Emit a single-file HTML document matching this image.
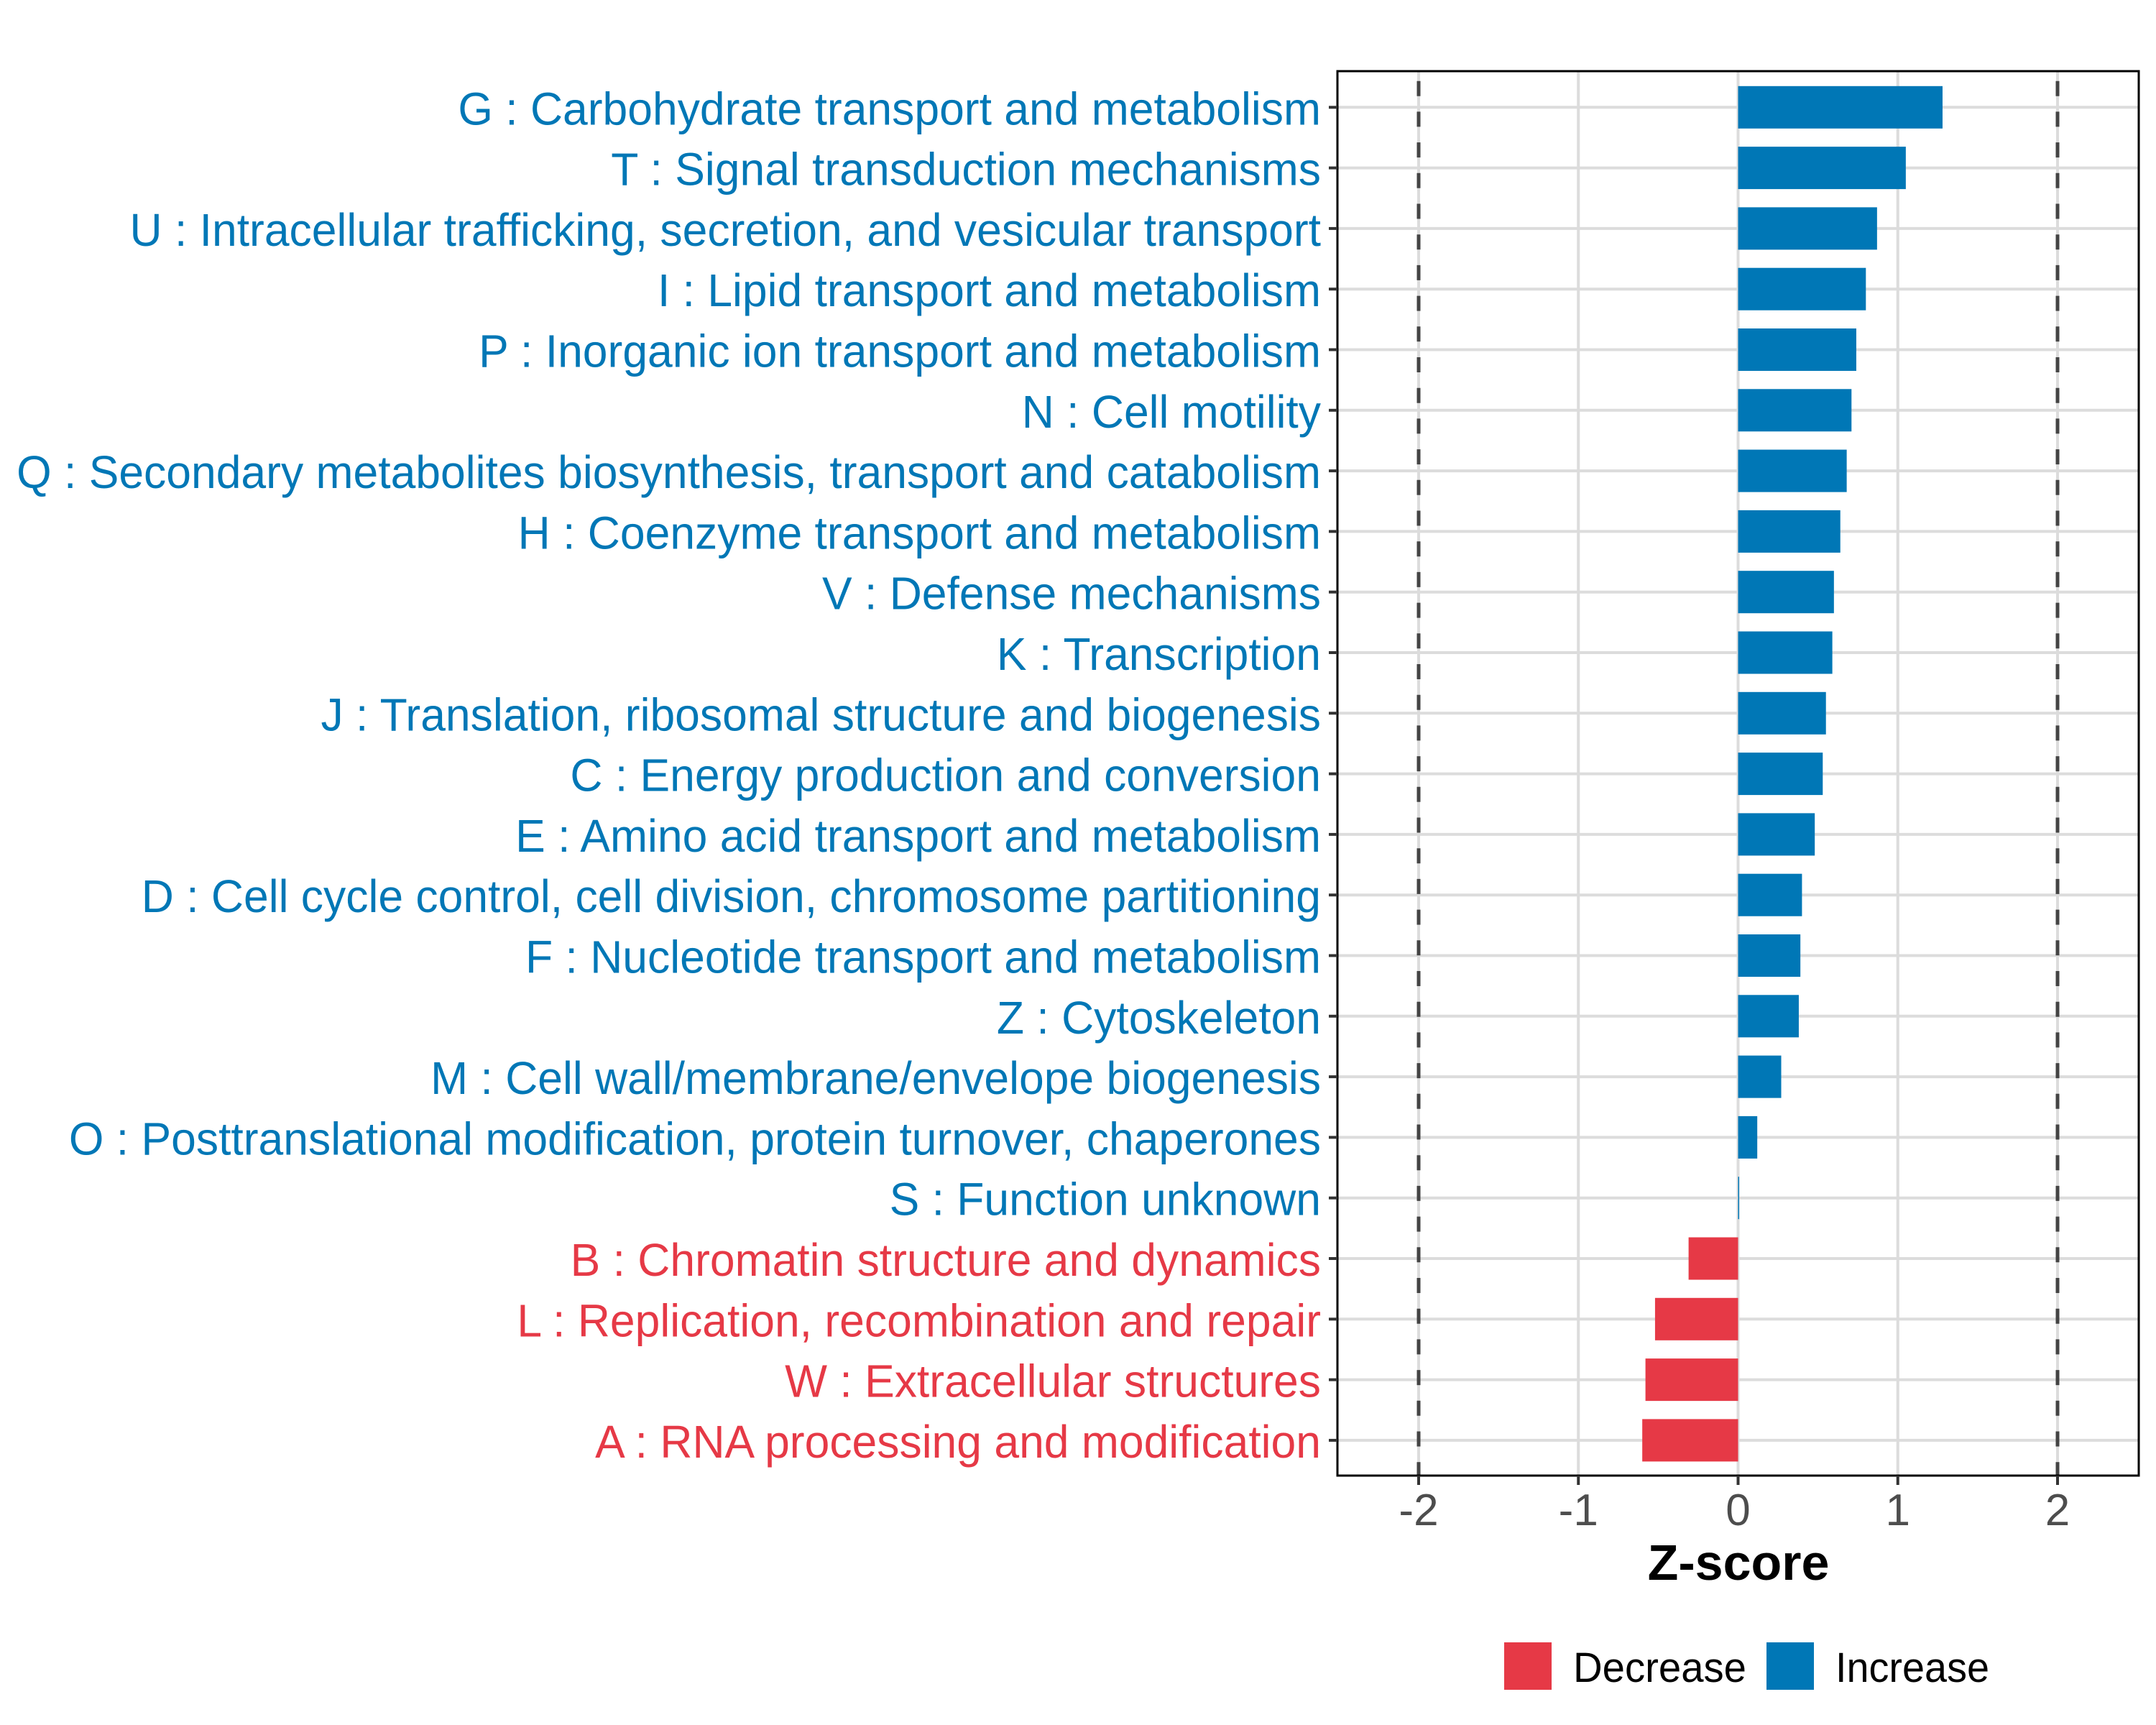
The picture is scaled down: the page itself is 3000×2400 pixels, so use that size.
<!DOCTYPE html>
<html><head><meta charset="utf-8"><style>
html,body{margin:0;padding:0;background:#fff}
svg{display:block;font-family:"Liberation Sans",Arial,sans-serif}
</style></head><body>
<svg id="chart" width="3000" height="2400" viewBox="0 0 3000 2400" xmlns="http://www.w3.org/2000/svg">
<rect x="0" y="0" width="3000" height="2400" fill="#fff"/>
<g id="grid"></g><g id="bars"></g><g id="refs"></g><g id="frame"></g><g id="labels"></g><g id="xaxis"></g>
<text x="2419" y="2198" text-anchor="middle" font-weight="bold" font-size="70" fill="#000">Z-score</text>
<g>
<rect x="2093" y="2285" width="66" height="66" fill="#E63946"/>
<text x="2189" y="2340" font-size="58" textLength="241" lengthAdjust="spacingAndGlyphs" fill="#000">Decrease</text>
<rect x="2458" y="2285" width="66" height="66" fill="#0077B6"/>
<text x="2554" y="2340" font-size="58" textLength="214" lengthAdjust="spacingAndGlyphs" fill="#000">Increase</text>
</g>
</svg>
<script>
const categories = [
"G : Carbohydrate transport and metabolism",
"T : Signal transduction mechanisms",
"U : Intracellular trafficking, secretion, and vesicular transport",
"I : Lipid transport and metabolism",
"P : Inorganic ion transport and metabolism",
"N : Cell motility",
"Q : Secondary metabolites biosynthesis, transport and catabolism",
"H : Coenzyme transport and metabolism",
"V : Defense mechanisms",
"K : Transcription",
"J : Translation, ribosomal structure and biogenesis",
"C : Energy production and conversion",
"E : Amino acid transport and metabolism",
"D : Cell cycle control, cell division, chromosome partitioning",
"F : Nucleotide transport and metabolism",
"Z : Cytoskeleton",
"M : Cell wall/membrane/envelope biogenesis",
"O : Posttranslational modification, protein turnover, chaperones",
"S : Function unknown",
"B : Chromatin structure and dynamics",
"L : Replication, recombination and repair",
"W : Extracellular structures",
"A : RNA processing and modification"];
const zscores = [1.28,1.05,0.87,0.80,0.74,0.71,0.68,0.64,0.60,0.59,0.55,0.53,0.48,0.40,0.39,0.38,0.27,0.12,0.005,-0.31,-0.52,-0.58,-0.60];
const xTicks = [-2,-1,0,1,2];
const xTickLabels = ["-2","-1","0","1","2"];
const refLines = [-2,2];

const NS="http://www.w3.org/2000/svg";
const L=1861,R=2976,T=99,B=2053;
const x=v=>2418.5+v*222.25;
const y=i=>149.3+i*84.3;
const BLUE="#0077B6",RED="#E63946";
function mk(parent,tag,attrs){const e=document.createElementNS(NS,tag);for(const k in attrs)e.setAttribute(k,attrs[k]);document.getElementById(parent).appendChild(e);return e;}

xTicks.forEach((t,i)=>{
 const g=mk('grid','line',{x1:x(t),x2:x(t),y1:T,y2:B,stroke:'#dcdcdc','stroke-width':4});
 
 
 const tk=mk('xaxis','line',{x1:x(t),x2:x(t),y1:B,y2:B+13,stroke:'#333','stroke-width':4});
 
 
 const tl=mk('xaxis','text',{x:x(t),y:2122,'text-anchor':'middle','font-size':62,fill:'#4d4d4d'});
 tl.textContent=xTickLabels[i];
 
 
});
categories.forEach((c,i)=>{
 const g=mk('grid','line',{x1:L,x2:R,y1:y(i),y2:y(i),stroke:'#dcdcdc','stroke-width':4});
 
 
 const v=zscores[i];const col=v<0?RED:BLUE;
 const w=Math.max(Math.abs(x(v)-x(0)),1.5);
 const b=mk('bars','rect',{x:Math.min(x(v),x(0)),y:y(i)-29.5,width:w,height:59,fill:col});
 
 
 const tk=mk('xaxis','line',{x1:L-12,x2:L,y1:y(i),y2:y(i),stroke:'#333','stroke-width':4});
 
 
});
refLines.forEach(r=>{
 const l=mk('refs','line',{x1:x(r),x2:x(r),y1:T,y2:B,stroke:'#444','stroke-width':5,'stroke-dasharray':'21 21.7','stroke-dashoffset':29});
 
 
});
const fr=mk('frame','rect',{x:L,y:T,width:R-L,height:B-T,fill:'none',stroke:'#000','stroke-width':3});



const lg=mk('labels','g',{});
const texts=[];
categories.forEach((c,i)=>{
 const t=document.createElementNS(NS,'text');
 t.setAttribute('x',0);t.setAttribute('y',y(i)+24);
 t.setAttribute('text-anchor','end');t.setAttribute('font-size',64);
 t.setAttribute('fill',zscores[i]<0?RED:BLUE);
 t.textContent=c;
 
 
 lg.appendChild(t);texts.push(t);
});
let f=1;
try{const w=texts[6].getComputedTextLength();if(w>0)f=1815/w;}catch(e){}
lg.setAttribute('transform','translate(1838,0) scale('+f+',1)');
</script>
</body></html>
